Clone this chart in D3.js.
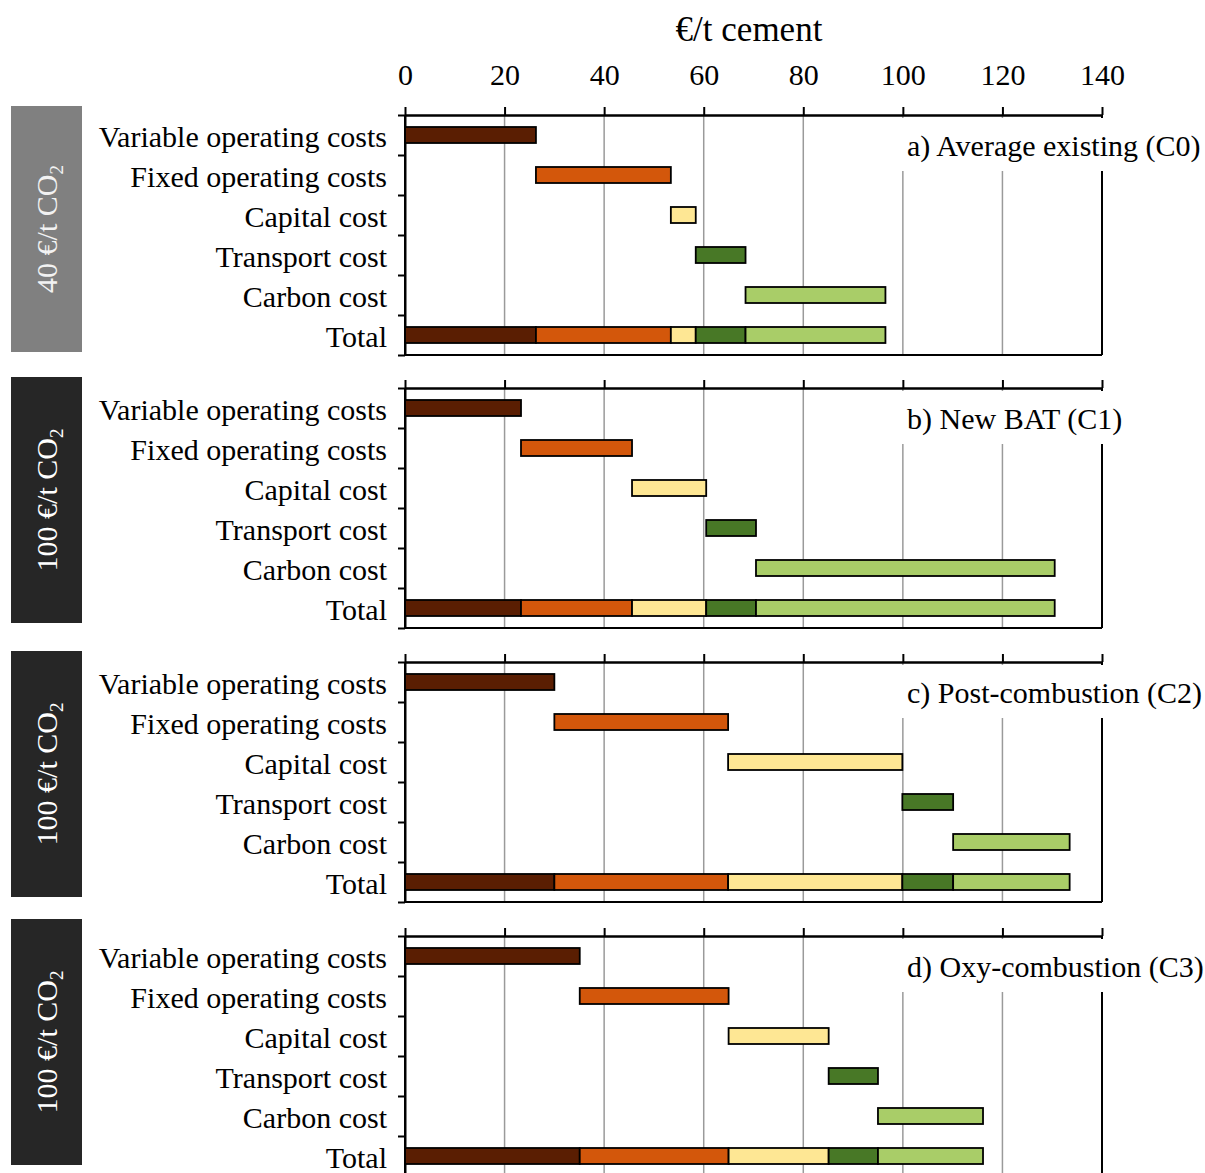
<!DOCTYPE html>
<html>
<head>
<meta charset="utf-8">
<script src="https://cdn.jsdelivr.net/npm/d3@7/dist/d3.min.js"></script>
<style>
  html, body { margin: 0; padding: 0; background: #fff; }
  svg { display: block; font-family: "Liberation Serif", "Times New Roman", serif; }
</style>
</head>
<body>
<svg id="chart" width="1205" height="1173"></svg>
<script>
// Cost components (rows) and the scenarios (panels)
const categories = ["Variable operating costs", "Fixed operating costs", "Capital cost",
                    "Transport cost", "Carbon cost", "Total"];
const components = ["variable", "fixed", "capital", "transport", "carbon"];
const scenarios = ["a) Average existing (C0)", "b) New BAT (C1)",
                   "c) Post-combustion (C2)", "d) Oxy-combustion (C3)"];
const carbonPrices = ["40", "100", "100", "100"];

// €/t cement per scenario (a, b, c, d)
const variableCost  = [26.3, 23.3, 30.0, 35.1];
const fixedCost     = [27.1, 22.3, 34.9, 29.9];
const capitalCost   = [5.0, 14.9, 35.0, 20.1];
const transportCost = [10.0, 10.0, 10.2, 9.9];
const carbonCost    = [28.1, 60.0, 23.4, 21.1];

const xTicks = [0, 20, 40, 60, 80, 100, 120, 140];
const axisTitle = "€/t cement";

const componentValues = [variableCost, fixedCost, capitalCost, transportCost, carbonCost];
const colors = ["#5a1e02", "#d3570b", "#fee794", "#487826", "#a9cd68"];

// ---- layout ----
const svg = d3.select("#chart");
const font = 30;
const x = d3.scaleLinear().domain([0, 140]).range([405, 1102]);
const panelTop = [115, 388, 662, 936];
const panelHeight = 240;
const boxTop = [106, 377, 651, 919];
const boxFill = ["#808080", "#262626", "#262626", "#262626"];
const boxText = ["#f2f2f2", "#ffffff", "#ffffff", "#ffffff"];

// axis title
svg.append("text")
  .attr("x", 749).attr("y", 41)
  .attr("text-anchor", "middle")
  .attr("font-size", 35)
  .attr("fill", "#000")
  .text(axisTitle);

scenarios.forEach((name, p) => {
  const top = panelTop[p];
  const g = svg.append("g");

  const y = d3.scaleBand()
    .domain(categories)
    .range([top, top + panelHeight])
    .paddingInner(0.6)
    .paddingOuter(0.3);
  const rowEdge = d3.scaleLinear().domain([0, categories.length]).range([top, top + panelHeight]);

  // vertical gridlines
  g.append("g").selectAll("line")
    .data(xTicks.filter(t => t > 0 && t < 140))
    .join("line")
    .attr("x1", d => x(d)).attr("x2", d => x(d))
    .attr("y1", top).attr("y2", top + panelHeight)
    .attr("stroke", "#9a9a9a").attr("stroke-width", 1.5);

  // right frame and bottom line
  g.append("line")
    .attr("x1", x(140)).attr("x2", x(140))
    .attr("y1", top).attr("y2", top + panelHeight)
    .attr("stroke", "#000").attr("stroke-width", 2);
  g.append("line")
    .attr("x1", x(0)).attr("x2", x(140))
    .attr("y1", top + panelHeight).attr("y2", top + panelHeight)
    .attr("stroke", "#000").attr("stroke-width", 2);

  // white plate behind the scenario name
  g.append("rect")
    .attr("x", 897).attr("y", top + 3)
    .attr("width", 308).attr("height", 53)
    .attr("fill", "#fff");

  // row separators on the left axis
  const leftAxis = d3.axisLeft(rowEdge)
    .tickValues(d3.range(0, categories.length + 1))
    .tickSize(7).tickSizeOuter(0)
    .tickFormat("");
  const la = g.append("g").attr("transform", `translate(${x(0)},0)`).call(leftAxis);
  la.select(".domain").attr("stroke", "#000").attr("stroke-width", 2);
  la.selectAll(".tick line").attr("stroke", "#000").attr("stroke-width", 2);

  // top value axis
  const topAxis = d3.axisTop(x)
    .tickValues(xTicks)
    .tickSize(8).tickSizeOuter(0)
    .tickPadding(22)
    .tickFormat(p === 0 ? d3.format("d") : () => "");
  const ta = g.append("g").attr("transform", `translate(0,${top})`).call(topAxis);
  ta.select(".domain").attr("stroke", "#000").attr("stroke-width", 2.5);
  ta.selectAll(".tick line").attr("stroke", "#000").attr("stroke-width", 2);
  ta.selectAll(".tick text")
    .attr("font-size", font).attr("font-family", "Liberation Serif, serif").attr("fill", "#000");

  // category labels
  g.append("g").selectAll("text")
    .data(categories)
    .join("text")
    .attr("x", 387)
    .attr("y", d => y(d) + y.bandwidth() / 2 + 2)
    .attr("dy", "0.34em")
    .attr("text-anchor", "end")
    .attr("font-size", font)
    .attr("fill", "#000")
    .text(d => d);

  // waterfall segments and stacked total
  const vals = componentValues.map(arr => arr[p]);
  const ends = d3.cumsum(vals);
  const segs = vals.map((v, i) => ({ i, start: ends[i] - v, end: ends[i] }));

  const bars = g.append("g");
  bars.selectAll("rect.step")
    .data(segs)
    .join("rect")
    .attr("class", "step")
    .attr("x", d => x(d.start))
    .attr("y", d => y(categories[d.i]))
    .attr("width", d => x(d.end) - x(d.start))
    .attr("height", y.bandwidth())
    .attr("fill", d => colors[d.i])
    .attr("stroke", "#000").attr("stroke-width", 1.8);
  bars.selectAll("rect.total")
    .data(segs)
    .join("rect")
    .attr("class", "total")
    .attr("x", d => x(d.start))
    .attr("y", y("Total"))
    .attr("width", d => x(d.end) - x(d.start))
    .attr("height", y.bandwidth())
    .attr("fill", d => colors[d.i])
    .attr("stroke", "#000").attr("stroke-width", 1.8);

  // redraw the left axis line on top of the bars
  g.append("line")
    .attr("x1", x(0)).attr("x2", x(0))
    .attr("y1", top).attr("y2", top + panelHeight)
    .attr("stroke", "#000").attr("stroke-width", 2);

  // scenario name
  g.append("text")
    .attr("x", 907).attr("y", top + 41)
    .attr("font-size", font)
    .attr("fill", "#000")
    .text(name);

  // carbon price box
  const bx = 11, bw = 71, bh = 246;
  g.append("rect")
    .attr("x", bx).attr("y", boxTop[p])
    .attr("width", bw).attr("height", bh)
    .attr("fill", boxFill[p]);
  const lbl = g.append("text")
    .attr("transform", `translate(${bx + bw / 2 + 10},${boxTop[p] + bh / 2}) rotate(-90)`)
    .attr("text-anchor", "middle")
    .attr("font-size", 30)
    .attr("fill", boxText[p]);
  lbl.append("tspan").text(`${carbonPrices[p]} €/t CO`);
  lbl.append("tspan").attr("font-size", 19).attr("dy", 6).text("2");
});
</script>
</body>
</html>
